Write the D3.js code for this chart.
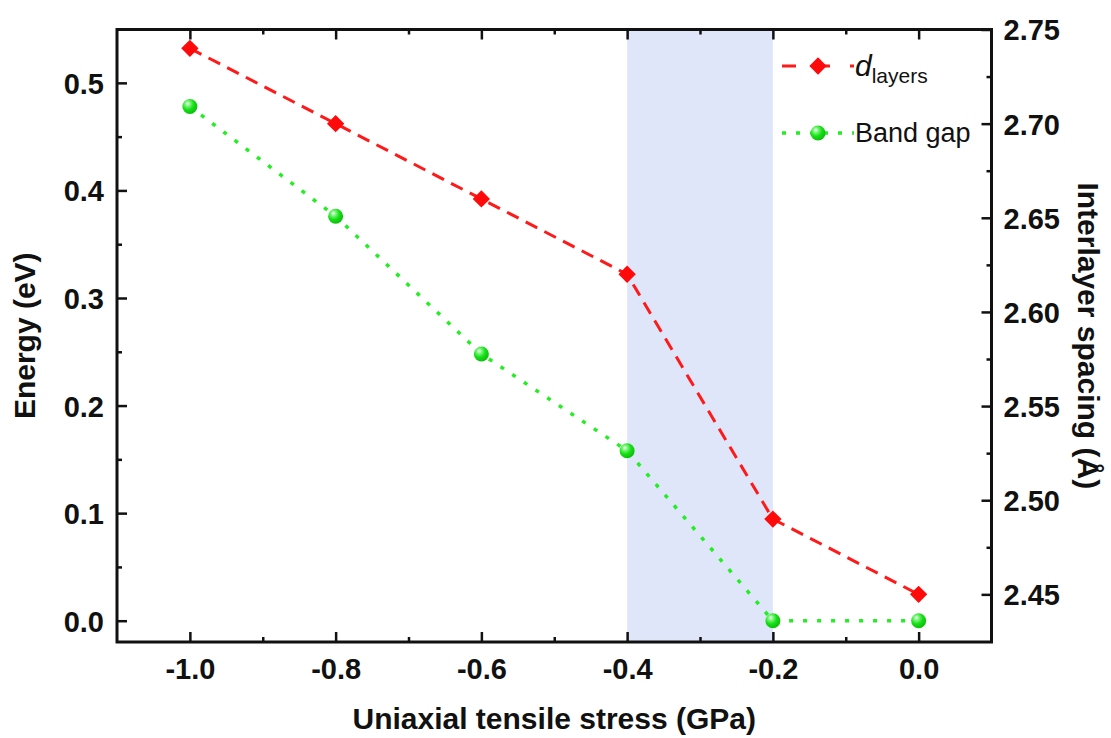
<!DOCTYPE html>
<html>
<head>
<meta charset="utf-8">
<script src="https://cdn.jsdelivr.net/npm/d3@7"></script>
<style>
  html, body { margin: 0; padding: 0; background: #ffffff; }
  svg { display: block; font-family: "Liberation Sans", Arial, sans-serif; }
  .tick-label { font-size: 29px; font-weight: bold; fill: #111; }
  .axis-title { font-size: 30px; font-weight: bold; fill: #111; }
  .legend-text { font-size: 27px; fill: #111; }
</style>
</head>
<body>
<svg id="chart" width="1111" height="738"></svg>
<script>
// Stress values (GPa)
const stress = [-1.0, -0.8, -0.6, -0.4, -0.2, 0.0];
// Interlayer spacing d_layers (Å), right axis
const layerSpacing = [2.74, 2.70, 2.66, 2.62, 2.49, 2.45];
// Band gap (eV), left axis
const bandGap = [0.478, 0.376, 0.248, 0.158, 0.0, 0.0];
// Highlighted stress interval
const shadeRange = [-0.4, -0.2];

const xTicks = [-1.0, -0.8, -0.6, -0.4, -0.2, 0.0];
const xMinor = [-0.9, -0.7, -0.5, -0.3, -0.1];
const yLeftTicks = [0.0, 0.1, 0.2, 0.3, 0.4, 0.5];
const yLeftMinor = [0.05, 0.15, 0.25, 0.35, 0.45];
const yRightTicks = [2.45, 2.50, 2.55, 2.60, 2.65, 2.70, 2.75];
const yRightMinor = [2.475, 2.525, 2.575, 2.625, 2.675, 2.725];

const W = 1111, H = 738;
const margin = { left: 117, right: W - 991.5, top: 29.5, bottom: H - 642 };
const svg = d3.select("#chart");

const x = d3.scaleLinear().domain([-1.1, 0.1]).range([margin.left, W - margin.right]);
const yL = d3.scaleLinear().domain([-0.0198, 0.5496]).range([H - margin.bottom, margin.top]);
const yR = d3.scaleLinear().domain([2.4247, 2.75]).range([H - margin.bottom, margin.top]);

const defs = svg.append("defs");
const grad = defs.append("radialGradient").attr("id", "ball")
  .attr("cx", "0.38").attr("cy", "0.35").attr("r", "0.65").attr("fx", "0.35").attr("fy", "0.3");
grad.append("stop").attr("offset", "0").attr("stop-color", "#f4fff4");
grad.append("stop").attr("offset", "0.25").attr("stop-color", "#7cf57c");
grad.append("stop").attr("offset", "0.6").attr("stop-color", "#16e016");
grad.append("stop").attr("offset", "1").attr("stop-color", "#0bc00b");

// Shaded stress interval
svg.append("rect")
  .attr("x", x(shadeRange[0]))
  .attr("y", margin.top)
  .attr("width", x(shadeRange[1]) - x(shadeRange[0]))
  .attr("height", H - margin.bottom - margin.top)
  .attr("fill", "#e0e6fa");

// Axes
const axisStroke = 3;
function styleAxis(g) {
  g.select(".domain").remove();
  g.selectAll(".tick line").attr("stroke", "#111").attr("stroke-width", 2.5);
}
const bottomY = H - margin.bottom, topY = margin.top;
const leftX = margin.left, rightX = W - margin.right;
const fmt1 = v => d3.format(".1f")(v).replace("−", "-");
const fmt2 = v => d3.format(".2f")(v);

// bottom
svg.append("g").attr("transform", `translate(0,${bottomY})`)
  .call(d3.axisBottom(x).tickValues(xTicks).tickSize(-10).tickFormat(fmt1))
  .call(styleAxis)
  .call(g => g.selectAll("text").attr("class", "tick-label").attr("dy", null).attr("y", 37));
svg.append("g").attr("transform", `translate(0,${bottomY})`)
  .call(d3.axisBottom(x).tickValues(xMinor).tickSize(-5).tickFormat(""))
  .call(styleAxis);
// top
svg.append("g").attr("transform", `translate(0,${topY})`)
  .call(d3.axisTop(x).tickValues(xTicks).tickSize(-10).tickFormat(""))
  .call(styleAxis);
svg.append("g").attr("transform", `translate(0,${topY})`)
  .call(d3.axisTop(x).tickValues(xMinor).tickSize(-5).tickFormat(""))
  .call(styleAxis);
// left
svg.append("g").attr("transform", `translate(${leftX},0)`)
  .call(d3.axisLeft(yL).tickValues(yLeftTicks).tickSize(-10).tickFormat(fmt1))
  .call(styleAxis)
  .call(g => g.selectAll("text").attr("class", "tick-label").attr("x", -13).attr("dy", "0.36em"));
svg.append("g").attr("transform", `translate(${leftX},0)`)
  .call(d3.axisLeft(yL).tickValues(yLeftMinor).tickSize(-5).tickFormat(""))
  .call(styleAxis);
// right
svg.append("g").attr("transform", `translate(${rightX},0)`)
  .call(d3.axisRight(yR).tickValues(yRightTicks).tickSize(-10).tickFormat(fmt2))
  .call(styleAxis)
  .call(g => g.selectAll("text").attr("class", "tick-label").attr("x", 12).attr("dy", "0.36em"));
svg.append("g").attr("transform", `translate(${rightX},0)`)
  .call(d3.axisRight(yR).tickValues(yRightMinor).tickSize(-5).tickFormat(""))
  .call(styleAxis);

// Frame
svg.append("rect")
  .attr("x", leftX).attr("y", topY)
  .attr("width", rightX - leftX).attr("height", bottomY - topY)
  .attr("fill", "none").attr("stroke", "#111").attr("stroke-width", axisStroke);

// Axis titles
svg.append("text").attr("class", "axis-title")
  .attr("x", (leftX + rightX) / 2).attr("y", 729).attr("text-anchor", "middle")
  .text("Uniaxial tensile stress (GPa)");
svg.append("g").attr("transform", `translate(35,${(topY + bottomY) / 2}) rotate(-90)`)
  .append("text").attr("class", "axis-title").attr("text-anchor", "middle")
  .text("Energy (eV)");
svg.append("g").attr("transform", `translate(1078,${(topY + bottomY) / 2}) rotate(90)`)
  .append("text").attr("class", "axis-title").attr("text-anchor", "middle")
  .text("Interlayer spacing (Å)");

// Series
const pts = stress.map((s, i) => ({ s, d: layerSpacing[i], g: bandGap[i] }));

svg.append("path").datum(pts)
  .attr("fill", "none").attr("stroke", "#ff1a1a").attr("stroke-width", 3)
  .attr("stroke-dasharray", "13,8")
  .attr("d", d3.line().x(p => x(p.s)).y(p => yR(p.d)));

svg.append("path").datum(pts)
  .attr("fill", "none").attr("stroke", "#22ee22").attr("stroke-width", 3.5)
  .attr("stroke-dasharray", "4,10")
  .attr("d", d3.line().x(p => x(p.s)).y(p => yL(p.g)));

const diamond = d3.symbol().type(d3.symbolSquare).size(150);
svg.append("g").selectAll("path").data(pts).join("path")
  .attr("d", diamond())
  .attr("transform", p => `translate(${x(p.s)},${yR(p.d)}) rotate(45)`)
  .attr("fill", "#ff0a0a");

svg.append("g").selectAll("circle").data(pts).join("circle")
  .attr("cx", p => x(p.s)).attr("cy", p => yL(p.g)).attr("r", 7.5)
  .attr("fill", "url(#ball)");

// Legend
const lg = svg.append("g");
lg.append("line").attr("x1", 782).attr("x2", 854).attr("y1", 66).attr("y2", 66)
  .attr("stroke", "#ff1a1a").attr("stroke-width", 3).attr("stroke-dasharray", "14,20");
lg.append("path").attr("d", diamond()).attr("transform", "translate(818,66) rotate(45)").attr("fill", "#ff0a0a");
const dt = lg.append("text").attr("class", "legend-text").attr("x", 855).attr("y", 76);
dt.append("tspan").attr("font-style", "italic").attr("font-size", "30px").text("d");
dt.append("tspan").attr("font-size", "21px").attr("dy", 7).text("layers");

lg.append("line").attr("x1", 782).attr("x2", 854).attr("y1", 133).attr("y2", 133)
  .attr("stroke", "#22ee22").attr("stroke-width", 3.5).attr("stroke-dasharray", "4,10");
lg.append("circle").attr("cx", 818).attr("cy", 133).attr("r", 7.5).attr("fill", "url(#ball)");
lg.append("text").attr("class", "legend-text").attr("x", 855).attr("y", 142).text("Band gap");
</script>
</body>
</html>
